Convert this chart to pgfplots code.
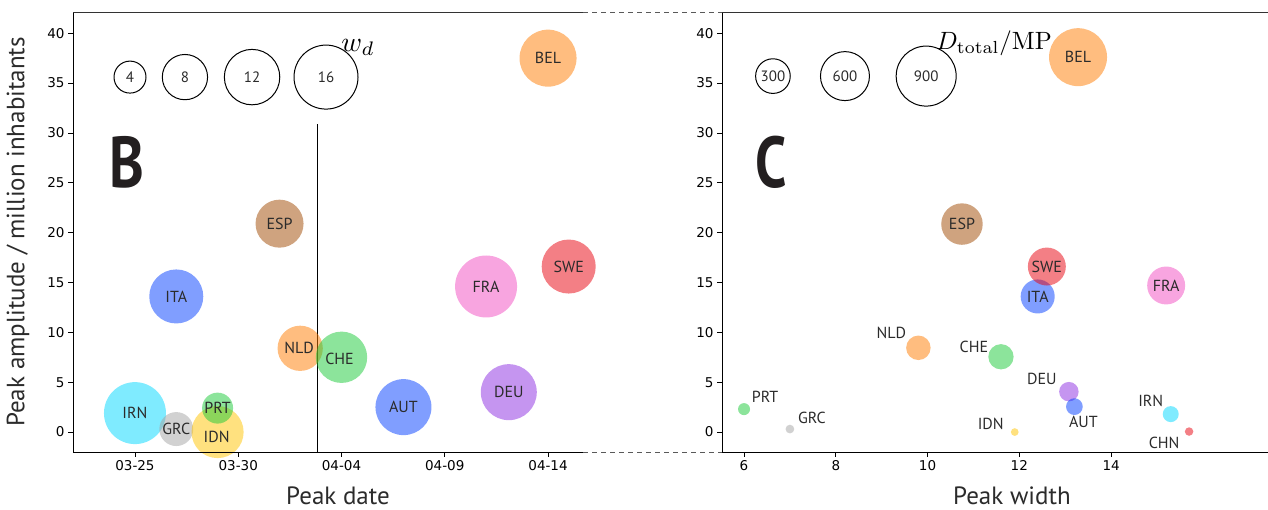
\documentclass[border=0pt]{standalone}
\usepackage[no-math]{fontspec}
\setmainfont{PT Sans}
\newfontfamily\tickfont{DejaVu Sans}
\usepackage{graphicx}
\usepackage{pgfplots}
\usepackage{pgfplotstable}
\pgfplotsset{compat=1.18}

% seaborn "bright" palette, drawn at half opacity
\definecolor{bc0}{HTML}{023EFF}% blue
\definecolor{bc1}{HTML}{FF7C00}% orange
\definecolor{bc2}{HTML}{1AC938}% green
\definecolor{bc3}{HTML}{E8000B}% red
\definecolor{bc4}{HTML}{8B2BE2}% purple
\definecolor{bc5}{HTML}{9F4800}% brown
\definecolor{bc6}{HTML}{F14CC1}% pink
\definecolor{bc7}{HTML}{A3A3A3}% gray
\definecolor{bc8}{HTML}{FFC400}% yellow
\definecolor{bc9}{HTML}{00D7FF}% cyan
\definecolor{labtext}{HTML}{2B2B2B}
\definecolor{bigletter}{HTML}{231F20}

\def\getint#1.#2\relax{#1}

% panel B: peak date (days after 03-25), peak amplitude, peak width w_d, colour
\pgfplotstableread{
name x y w c offx offy
IRN 0 1.9 15 9 0 0
GRC 2 0.3 4.5 7 0 0
IDN 4 0 10.6 8 -1 -5
PRT 4 2.4 3.75 2 0 0
ITA 2 13.6 11.4 0 0 0
ESP 7 20.9 9 5 0 0
NLD 8 8.4 8 1 -1 0
CHE 10 7.5 10.3 2 -2 -2
AUT 13 2.5 12.25 0 0 0
DEU 18.1 4.0 12.25 4 0 0
FRA 17 14.6 15 6 0 0
SWE 21 16.6 11.4 3 0 0
BEL 20 37.5 12.7 1 0 0
}\datB

% panel C: peak width, peak amplitude, D_total/MP, colour
\pgfplotstableread{
name x y D c offx offy
PRT 6.0 2.3 36 2 21 12
GRC 7.0 0.3 19 7 22 11
NLD 9.8 8.45 150 1 -27 15
CHE 11.6 7.55 160 2 -27 10
IDN 11.9 0.0 15 8 -24 8
ESP 10.75 20.86 430 5 0 0
ITA 12.4 13.6 290 0 0 0
SWE 12.6 16.6 360 3 0 0
DEU 13.08 4.05 95 4 -27 13
AUT 13.2 2.55 70 0 9 -15
FRA 15.2 14.7 360 6 0 0
IRN 15.3 1.8 64 9 -20 13
CHN 15.7 0.05 18 3 -25 -11
BEL 13.28 37.6 840 1 0 0
}\datC

\pgfplotstableread{
x y w
-0.24 35.6 4
2.42 35.6 8
5.67 35.6 12
9.25 35.6 16
}\legB

\pgfplotstableread{
x y w
6.63 35.7 300
8.20 35.7 600
9.97 35.7 900
}\legC

\pgfplotsset{
  panel/.style={
    scale only axis, height=440pt, ymin=-2, ymax=42.13,
    axis lines=left, axis line style={-, line width=0.9pt, black},
    tick align=outside, major tick length=5pt,
    tick style={black, line width=0.8pt},
    ytick={0,5,...,40},
    tick label style={font=\tickfont\fontsize{13.5}{15}\selectfont},
    /pgf/number format/assume math mode=true,
    label style={font=\fontsize{25}{28}\selectfont, text=labtext, inner sep=0pt},
  },
  % filled bubbles, size and colour per point
  bubbles/.style={
    scatter, only marks, mark=*,
    visualization depends on={\thisrow{c} \as \mcol},
    scatter/@pre marker code/.code={%
      \edef\ci{\expandafter\getint\mcol.\relax}%
      \edef\tmpcol{bc\ci}%
      \scope[mark size=\mrad pt, fill=\tmpcol, fill opacity=0.5, draw opacity=0]%
    },
    scatter/@post marker code/.code={\endscope},
  },
  % open circles of the size key
  sizekey/.style={
    scatter, only marks, mark=o,
    scatter/@pre marker code/.code={%
      \scope[mark size=\mrad pt, draw=black, line width=1pt]%
    },
    scatter/@post marker code/.code={\endscope},
  },
  % text at the points, the points themselves not drawn
  names/.style={
    only marks, mark=*, mark size=0.01pt,
    mark options={draw opacity=0, fill opacity=0},
    point meta=explicit symbolic,
    nodes near coords,
    nodes near coords align=center,
    every node near coord/.append style={anchor=center, inner sep=0pt,
      text=labtext, text opacity=1, font=\fontsize{#1}{18}\selectfont},
  },
  shifted/.style={
    visualization depends on={\thisrow{offx} \as \offx},
    visualization depends on={\thisrow{offy} \as \offy},
    every node near coord/.append style={xshift=\offx pt, yshift=\offy pt},
  },
}

\begin{document}
\begin{tikzpicture}
\useasboundingbox (0,0) rectangle (1268pt,510pt);

% ---- panel B ----
\begin{axis}[panel, at={(73pt,58pt)}, anchor=south west, width=537pt,
  xmin=-3, xmax=23.0,
  xtick={0,5,10,15,20}, xticklabels={03-25,03-30,04-04,04-09,04-14},
  x axis line style={draw=none},
  xlabel={Peak date}, ylabel={Peak amplitude / million inhabitants},
  xlabel style={at={(axis description cs:0.4935,-0.100)}, anchor=center},
  ylabel style={at={(axis description cs:-0.1024,0.5)}, anchor=center},
]
\addplot[black, line width=0.8pt] coordinates {(8.83,-2) (8.83,30.9)};
\addplot[bubbles, visualization depends on={8*sqrt(\thisrow{w}) \as \mrad}]
  table[x=x, y=y] {\datB};
\addplot[names=16, shifted] table[x=x, y=y, meta=name] {\datB};
\addplot[sizekey, visualization depends on={8*sqrt(\thisrow{w}) \as \mrad}]
  table[x=x, y=y] {\legB};
\addplot[names=15] table[x=x, y=y, meta=w] {\legB};
\node[fill=white, inner sep=1pt] at (axis cs:10.8,38.6) {\scalebox{2.8}{$w_d$}};
\end{axis}

% ---- panel C ----
\begin{axis}[panel, at={(722pt,58pt)}, anchor=south west, width=546pt,
  xmin=5.52, xmax=17.42, xtick={6,8,10,12,14},
  xlabel={Peak width},
  xlabel style={at={(axis description cs:0.531,-0.100)}, anchor=center},
]
\addplot[bubbles, visualization depends on={sqrt(\thisrow{D}) \as \mrad}]
  table[x=x, y=y] {\datC};
\addplot[names=16, shifted] table[x=x, y=y, meta=name] {\datC};
\addplot[sizekey, visualization depends on={sqrt(\thisrow{w}) \as \mrad}]
  table[x=x, y=y] {\legC};
\addplot[names=15] table[x=x, y=y, meta=w] {\legC};
\node[fill=white, inner sep=1pt] at (axis cs:11.45,39.0)
  {\scalebox{2.5}{$D_{\mathrm{total}}/\mathrm{MP}$}};
\end{axis}

% frame lines and the dashed link between the panels
\draw[line width=0.9pt, black] (73pt,58pt) -- (583pt,58pt);
\draw[line width=0.9pt, black!80] (73pt,498pt) -- (583pt,498pt);
\draw[line width=0.9pt, black!80] (722pt,498pt) -- (1268pt,498pt);
\draw[line width=0.9pt, black!65, dash pattern=on 5pt off 4pt] (583pt,498pt) -- (722pt,498pt);
\draw[line width=0.9pt, black!65, dash pattern=on 5pt off 4pt] (583pt,58pt) -- (722pt,58pt);

% panel letters
\node[text=bigletter, font=\bfseries\fontsize{72}{72}\selectfont, inner sep=0pt]
  at (126.5pt,348pt) {\scalebox{0.82}[1]{B}};
\node[text=bigletter, font=\bfseries\fontsize{72}{72}\selectfont, inner sep=0pt]
  at (771pt,348pt) {\scalebox{0.78}[1]{C}};
\end{tikzpicture}
\end{document}
